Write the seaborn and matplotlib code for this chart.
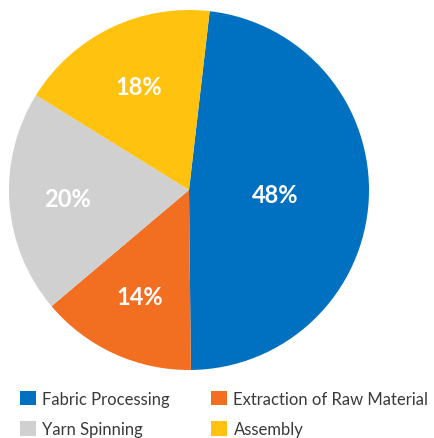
"""Share of process stages as a pie chart."""

import matplotlib

matplotlib.use("Agg")
import matplotlib.pyplot as plt
import numpy as np
import seaborn as sns

STAGES = ["Fabric Processing", "Extraction of Raw Material", "Yarn Spinning", "Assembly"]
SHARES = [48, 14, 20, 18]
COLORS = ["#0070C0", "#F26F21", "#D0D0D0", "#FFC20E"]
LABEL_RADII = [0.48, 0.65, 0.675, 0.64]
LEGEND_ORDER = [0, 2, 1, 3]

sns.set_theme(style="white")
plt.rcParams["font.family"] = ["Lato", "DejaVu Sans"]

fig = plt.figure(figsize=(4.35, 4.39), dpi=100)
ax = fig.add_axes([9 / 435, 1 - 371 / 439, 360 / 435, 360 / 439])

wedges, texts, autotexts = ax.pie(
    SHARES,
    colors=COLORS,
    startangle=83.4,
    counterclock=False,
    autopct="%d%%",
    pctdistance=0.65,
    textprops={"color": "white", "fontsize": 17, "fontweight": "bold"},
    wedgeprops={"linewidth": 0},
)
ax.set_xlim(-1, 1)
ax.set_ylim(-1, 1)
ax.set_aspect("equal")

for w, t, r in zip(wedges, autotexts, LABEL_RADII):
    mid = np.deg2rad((w.theta1 + w.theta2) / 2)
    t.set_position((r * np.cos(mid), r * np.sin(mid)))

fig.legend(
    [wedges[i] for i in LEGEND_ORDER],
    [STAGES[i] for i in LEGEND_ORDER],
    ncol=2,
    loc="upper left",
    bbox_to_anchor=(20 / 435, 1 - 392 / 439),
    borderpad=0,
    borderaxespad=0,
    frameon=False,
    handlelength=0.95,
    handleheight=0.95,
    handletextpad=0.4,
    columnspacing=2.45,
    labelspacing=0.85,
    fontsize=12,
    labelcolor="#3a3a3a",
)

fig.savefig("out.png", dpi=100)
